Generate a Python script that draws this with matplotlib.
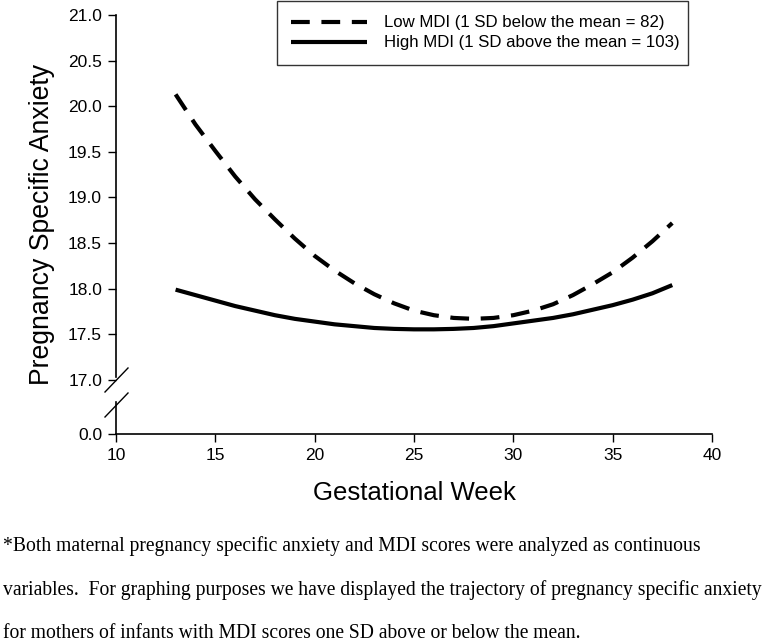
import numpy as np
import matplotlib
matplotlib.use("Agg")
import matplotlib.pyplot as plt
from matplotlib.lines import Line2D

# ---- data ----
weeks = [13, 14, 15, 16, 17, 18, 19, 20, 21, 22, 23, 24, 25, 26, 27, 28, 29, 30,
         31, 32, 33, 34, 35, 36, 37, 38]
low_mdi = [20.13, 19.80, 19.51, 19.23, 18.98, 18.76, 18.55, 18.36, 18.20, 18.06,
           17.94, 17.84, 17.76, 17.71, 17.68, 17.67, 17.68, 17.71, 17.76, 17.83,
           17.93, 18.05, 18.18, 18.34, 18.52, 18.72]
high_mdi = [17.99, 17.93, 17.87, 17.81, 17.76, 17.71, 17.67, 17.64, 17.61, 17.59,
            17.57, 17.56, 17.555, 17.555, 17.56, 17.57, 17.59, 17.62, 17.65, 17.68,
            17.72, 17.77, 17.82, 17.88, 17.95, 18.04]
labels = ["Low MDI (1 SD below the mean = 82)",
          "High MDI (1 SD above the mean = 103)"]
xticks = [10, 15, 20, 25, 30, 35, 40]
yticks = [0.0, 17.0, 17.5, 18.0, 18.5, 19.0, 19.5, 20.0, 20.5, 21.0]
footnote = ["*Both maternal pregnancy specific anxiety and MDI scores were analyzed as continuous",
            "variables.  For graphing purposes we have displayed the trajectory of pregnancy specific anxiety",
            "for mothers of infants with MDI scores one SD above or below the mean."]

SANS = ["Liberation Sans", "DejaVu Sans"]
SERIF = ["Liberation Serif", "DejaVu Serif"]
plt.rcParams['font.family'] = SANS

GAP = 0.592  # visual size of the 0..17 segment after the axis break


def fwd(y):
    y = np.asarray(y, dtype=float)
    return np.where(y >= 17, y, 17 - GAP + y * GAP / 17)


def inv(v):
    v = np.asarray(v, dtype=float)
    return np.where(v >= 17, v, (v - 17 + GAP) * 17 / GAP)


fig = plt.figure(figsize=(7.69, 6.42), dpi=100)
ax = fig.add_axes([116 / 769, 1 - 434 / 642, 596 / 769, 419 / 642])
ax.set_yscale('function', functions=(fwd, inv))

ax.plot(weeks, low_mdi, color='black', lw=3, linestyle=(0, (4.5, 2.8)),
        dash_capstyle='butt', label=labels[0])
ax.plot(weeks, high_mdi, color='black', lw=3, solid_capstyle='butt', label=labels[1])

ax.set_xlim(10, 40)
ax.set_ylim(0, 21)
ax.set_xticks(xticks)
ax.set_xticklabels([str(t) for t in xticks])
ax.set_yticks(yticks)
ax.set_yticklabels([f"{t:.1f}" for t in yticks])
ax.tick_params(axis='both', direction='out', length=6, width=1, labelsize=12.5, color='black')
ax.tick_params(axis='y', pad=4)
ax.tick_params(axis='x', pad=4)

for s in ['top', 'right', 'left']:
    ax.spines[s].set_visible(False)
ax.spines['bottom'].set_linewidth(1.2)

# left spine with break
def ay(px):
    return (434 - px) / 419

for y0, y1 in [(0, ay(402)), (ay(377), 1)]:
    ax.add_line(Line2D([0, 0], [y0, y1], transform=ax.transAxes, color='black',
                       lw=1.2, clip_on=False))
dx0, dx1 = (105 - 116) / 596, (128 - 116) / 596
for cpx in [380, 405]:
    ax.add_line(Line2D([dx0, dx1], [ay(cpx + 12), ay(cpx - 12)], transform=ax.transAxes,
                       color='black', lw=1.0, clip_on=False))

ax.set_xlabel("Gestational Week", fontsize=18.5, labelpad=13)
ax.set_ylabel("Pregnancy Specific Anxiety", fontsize=19.2, labelpad=9)

leg = ax.legend(loc='upper left', bbox_to_anchor=(0.270, 0.885, 0.690, 0.148),
                mode='expand', borderaxespad=0, fontsize=12.1, handlelength=4.5,
                handletextpad=1.0, borderpad=0.85, labelspacing=0.3, frameon=True,
                fancybox=False)
leg.get_frame().set_edgecolor('black')
leg.get_frame().set_linewidth(1.0)

for i, line in enumerate(footnote):
    fig.text(3 / 769, 1 - (546 + 44 * i) / 642, line, family=SERIF, fontsize=14.1,
             ha='left', va='center')

fig.savefig("out.png", dpi=100)
